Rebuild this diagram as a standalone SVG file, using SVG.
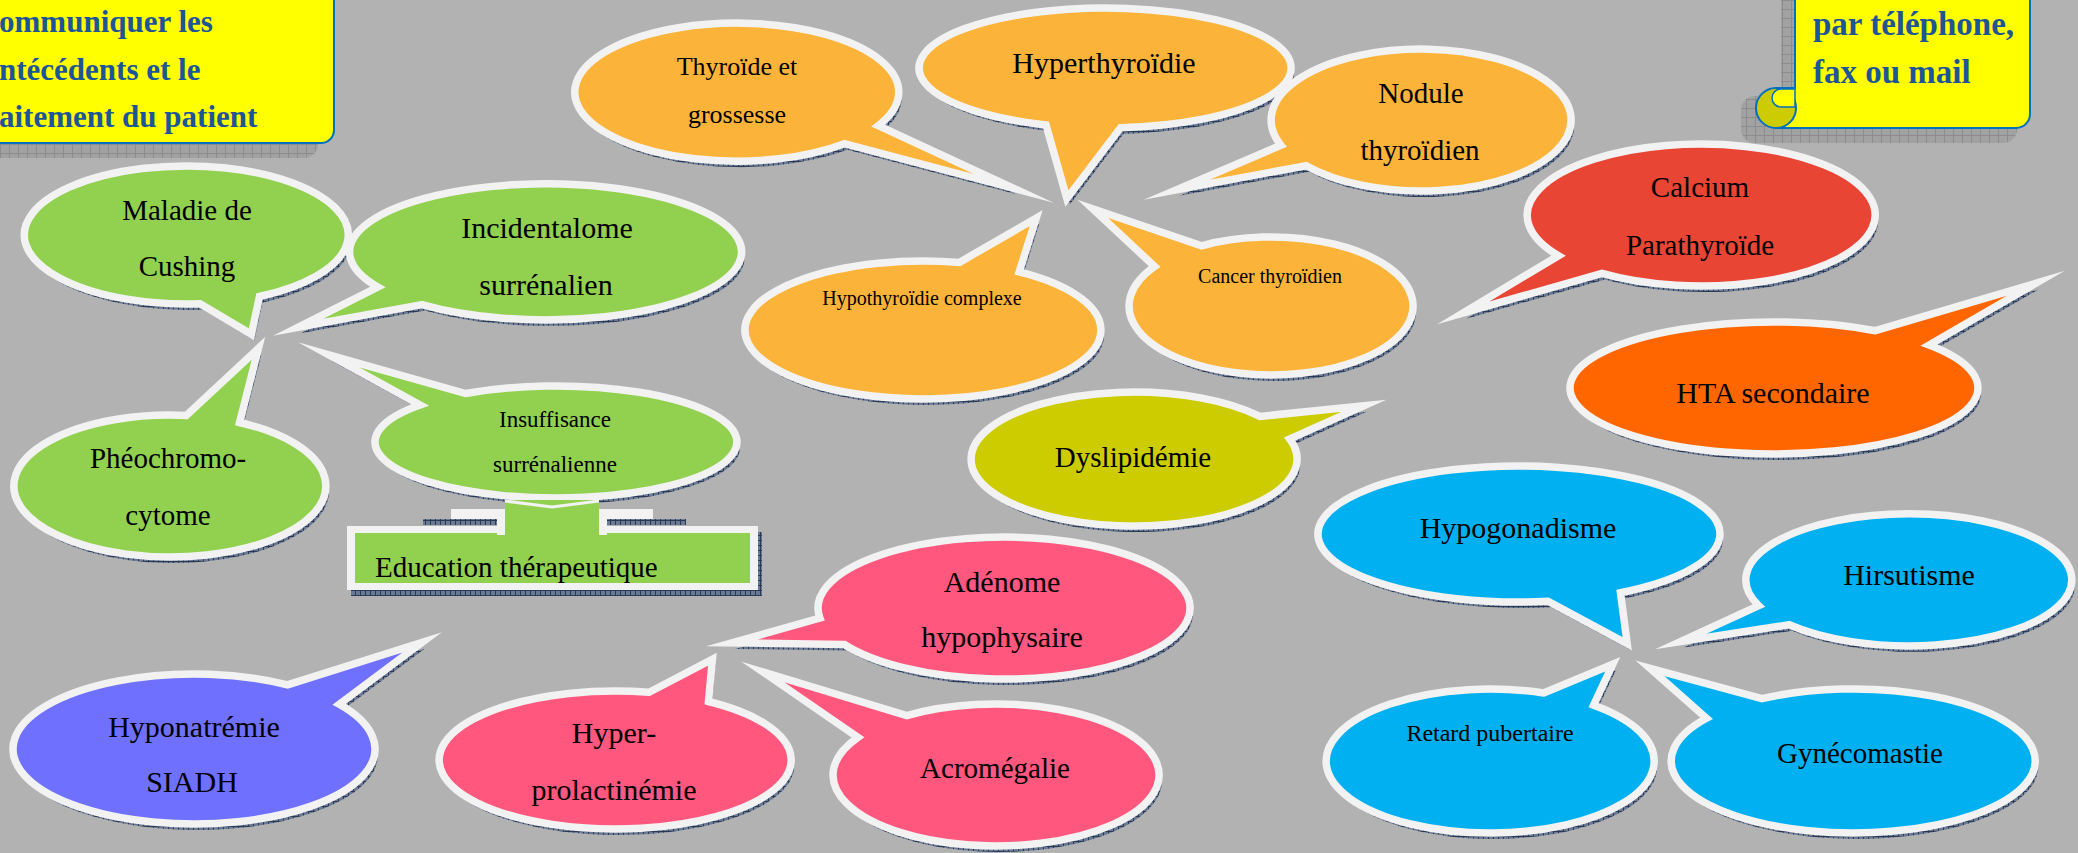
<svg xmlns="http://www.w3.org/2000/svg" width="2078" height="853" viewBox="0 0 2078 853">
<defs>
<pattern id="hatch" width="5" height="5" patternUnits="userSpaceOnUse"><rect width="5" height="5" fill="#6b7a94"/><path d="M0 0.5H5M0.5 0V5" stroke="#2a3954" stroke-width="1"/></pattern>
<pattern id="grey" width="9" height="9" patternUnits="userSpaceOnUse"><rect width="9" height="9" fill="#a2a2a2"/><path d="M0 0.5H9M0.5 0V9" stroke="#8c8c8c" stroke-width="1"/></pattern>
<path id="p-maladie" d="M259.5 296.5 L251.4 334.3 L200.1 303.7 A162 69 0 1 1 259.5 296.5 Z"/>
<path id="p-incid" d="M421.9 304.6 L297.9 327.3 L377.8 287 A196 68 0 1 1 421.9 304.6 Z"/>
<path id="p-pheo" d="M186.3 415.4 L258.5 348.2 L239.6 422.5 A156 71 0 1 1 186.3 415.4 Z"/>
<path id="p-insuff" d="M420.1 405 L328.8 354.9 L465.5 393.5 A181 56 0 1 1 420.1 405 Z"/>
<path id="p-hypona" d="M287.5 684.8 L422 642.5 L339.3 704.3 A181 75 0 1 1 287.5 684.8 Z"/>
<path id="p-hyperprl" d="M649.2 692.3 L712.4 659.3 L708.5 701.5 A176 69 0 1 1 649.2 692.3 Z"/>
<path id="p-adenome" d="M844.4 644.5 L731.8 642.9 L819.9 618.1 A186 71 0 1 1 844.4 644.5 Z"/>
<path id="p-acro" d="M857.9 737.3 L763 672 L906.7 715.6 A163 71 0 1 1 857.9 737.3 Z"/>
<path id="p-thyro" d="M878.3 125.7 L1013.5 188.3 L844.4 143.7 A162 69 0 1 1 878.3 125.7 Z"/>
<path id="p-hyperthyr" d="M1120.6 127.8 L1066.9 198.6 L1046 124.9 A186 60 0 1 1 1120.6 127.8 Z"/>
<path id="p-nodule" d="M1306.2 165.7 L1176.5 189.8 L1280.9 145.3 A150 71 0 1 1 1306.2 165.7 Z"/>
<path id="p-cancer" d="M1154.6 266.5 L1092.8 208.8 L1201.6 245.8 A142 69 0 1 1 1154.6 266.5 Z"/>
<path id="p-hypothyr" d="M959.4 262.4 L1036.2 218.1 L1019.2 271.9 A178 69 0 1 1 959.4 262.4 Z"/>
<path id="p-dyslip" d="M1259.8 416.4 L1363.7 405.8 L1289.7 439.1 A163 67 0 1 1 1259.8 416.4 Z"/>
<path id="p-calcium" d="M1602 273.4 L1463.3 312.8 L1558.5 255.7 A174 71 0 1 1 1602 273.4 Z"/>
<path id="p-hta" d="M1875.4 330.7 L2035.8 283.3 L1929.1 345.1 A204 66 0 1 1 1875.4 330.7 Z"/>
<path id="p-hypogon" d="M1620.5 592.7 L1627.2 643.7 L1548 601.3 A201 68 0 1 1 1620.5 592.7 Z"/>
<path id="p-hirsut" d="M1789.2 624.7 L1680.9 641.4 L1758.7 605.6 A163 66 0 1 1 1789.2 624.7 Z"/>
<path id="p-retard" d="M1543.6 693 L1612.8 664.2 L1593.6 705.2 A164 72 0 1 1 1543.6 693 Z"/>
<path id="p-gyneco" d="M1706.5 718.3 L1650 668.3 L1762 698.6 A182 72 0 1 1 1706.5 718.3 Z"/>
</defs>
<style>
.sh{fill:url(#hatch)}
.b{stroke:#f2f2f2;stroke-width:7.5;stroke-linejoin:miter;stroke-miterlimit:30}
.green{fill:#92d050}
.orange{fill:#fbb439}
.olive{fill:#cccc00}
.red{fill:#e84535}
.hta{fill:#ff6600}
.pink{fill:#ff577d}
.blue{fill:#00b0f0}
.violet{fill:#7070ff}
.t{font-family:"Liberation Serif","DejaVu Serif",serif;fill:#000;text-anchor:middle}
.n{font-family:"Liberation Serif","DejaVu Serif",serif;font-weight:bold;fill:#1e5596}
</style>
<rect x="0" y="0" width="2078" height="853" fill="#b2b2b2"/>

<g id="note-left">
<rect x="-30" y="-20" width="348" height="178" rx="14" fill="url(#grey)"/>
<rect x="-20" y="-20" width="354" height="163" rx="13" fill="#ffff00" stroke="#0070c0" stroke-width="2"/>
<text class="n" x="-1" y="32" font-size="31">ommuniquer les</text>
<text class="n" x="-1" y="80" font-size="31">ntécédents et le</text>
<text class="n" x="-1" y="127" font-size="31">aitement du patient</text>
</g>

<g id="note-right">
<rect x="1781" y="-10" width="20" height="110" fill="url(#grey)"/>
<rect x="1741" y="96" width="276" height="47" rx="14" fill="url(#grey)"/>
<path d="M1795 -10 H2030 V114 A14 14 0 0 1 2016 128 H1776 V88 H1795 Z" fill="#ffff00" stroke="#0070c0" stroke-width="2"/>
<circle cx="1776" cy="108" r="20" fill="#cccc00" stroke="#0070c0" stroke-width="2"/>
<path d="M1795 89 H1781 A9 9 0 0 0 1781 107 H1795 Z" fill="#ffff00" stroke="#0070c0" stroke-width="1.5"/>
<text class="n" x="1813" y="35" font-size="33">par téléphone,</text>
<text class="n" x="1813" y="83" font-size="33">fax ou mail</text>
</g>

<g id="maladie-cushing">
<use href="#p-maladie" class="sh" x="3" y="6"/>
<use href="#p-maladie" class="b green"/>
<text class="t" x="187" y="220" font-size="29">Maladie de</text>
<text class="t" x="187" y="276" font-size="29">Cushing</text>
</g>
<g id="incidentalome">
<use href="#p-incid" class="sh" x="3" y="6"/>
<use href="#p-incid" class="b green"/>
<text class="t" x="547" y="238" font-size="30">Incidentalome</text>
<text class="t" x="546" y="295" font-size="30">surrénalien</text>
</g>
<g id="pheochromocytome">
<use href="#p-pheo" class="sh" x="3" y="6"/>
<use href="#p-pheo" class="b green"/>
<text class="t" x="168" y="468" font-size="29">Phéochromo-</text>
<text class="t" x="168" y="525" font-size="29">cytome</text>
</g>
<g id="insuffisance">
<use href="#p-insuff" class="sh" x="3" y="6"/>
<use href="#p-insuff" class="b green"/>
<text class="t" x="555" y="427" font-size="23">Insuffisance</text>
<text class="t" x="555" y="472" font-size="23">surrénalienne</text>
</g>
<g id="education">
<rect x="351" y="532" width="411" height="64" class="sh"/>
<rect x="347" y="526" width="411" height="64" fill="#f2f2f2"/>
<rect x="355" y="533" width="395" height="50" fill="#92d050"/>
<text class="t" x="375" y="577" font-size="29" style="text-anchor:start">Education thérapeutique</text>
</g>
<g id="hyponatremie">
<use href="#p-hypona" class="sh" x="3" y="6"/>
<use href="#p-hypona" class="b violet"/>
<text class="t" x="194" y="737" font-size="30">Hyponatrémie</text>
<text class="t" x="192" y="792" font-size="30">SIADH</text>
</g>
<g id="hyperprolactinemie">
<use href="#p-hyperprl" class="sh" x="3" y="6"/>
<use href="#p-hyperprl" class="b pink"/>
<text class="t" x="614" y="743" font-size="30">Hyper-</text>
<text class="t" x="614" y="800" font-size="30">prolactinémie</text>
</g>
<g id="adenome">
<use href="#p-adenome" class="sh" x="3" y="6"/>
<use href="#p-adenome" class="b pink"/>
<text class="t" x="1002" y="592" font-size="30">Adénome</text>
<text class="t" x="1002" y="647" font-size="30">hypophysaire</text>
</g>
<g id="acromegalie">
<use href="#p-acro" class="sh" x="3" y="6"/>
<use href="#p-acro" class="b pink"/>
<text class="t" x="995" y="778" font-size="29">Acromégalie</text>
</g>
<g id="thyroide-grossesse">
<use href="#p-thyro" class="sh" x="3" y="6"/>
<use href="#p-thyro" class="b orange"/>
<text class="t" x="737" y="75" font-size="26">Thyroïde et</text>
<text class="t" x="737" y="123" font-size="26">grossesse</text>
</g>
<g id="hyperthyroidie">
<use href="#p-hyperthyr" class="sh" x="3" y="6"/>
<use href="#p-hyperthyr" class="b orange"/>
<text class="t" x="1104" y="73" font-size="30">Hyperthyroïdie</text>
</g>
<g id="nodule">
<use href="#p-nodule" class="sh" x="3" y="6"/>
<use href="#p-nodule" class="b orange"/>
<text class="t" x="1421" y="103" font-size="29">Nodule</text>
<text class="t" x="1420" y="160" font-size="29">thyroïdien</text>
</g>
<g id="hypothyroidie">
<use href="#p-hypothyr" class="sh" x="3" y="6"/>
<use href="#p-hypothyr" class="b orange"/>
<text class="t" x="922" y="305" font-size="20">Hypothyroïdie complexe</text>
</g>
<g id="cancer">
<use href="#p-cancer" class="sh" x="3" y="6"/>
<use href="#p-cancer" class="b orange"/>
<text class="t" x="1270" y="283" font-size="20">Cancer thyroïdien</text>
</g>
<g id="dyslipidemie">
<use href="#p-dyslip" class="sh" x="3" y="6"/>
<use href="#p-dyslip" class="b olive"/>
<text class="t" x="1133" y="467" font-size="29">Dyslipidémie</text>
</g>
<g id="calcium">
<use href="#p-calcium" class="sh" x="3" y="6"/>
<use href="#p-calcium" class="b red"/>
<text class="t" x="1700" y="197" font-size="29">Calcium</text>
<text class="t" x="1700" y="255" font-size="29">Parathyroïde</text>
</g>
<g id="hta">
<use href="#p-hta" class="sh" x="3" y="6"/>
<use href="#p-hta" class="b hta"/>
<text class="t" x="1773" y="403" font-size="30">HTA secondaire</text>
</g>
<g id="hypogonadisme">
<use href="#p-hypogon" class="sh" x="3" y="6"/>
<use href="#p-hypogon" class="b blue"/>
<text class="t" x="1518" y="538" font-size="30">Hypogonadisme</text>
</g>
<g id="hirsutisme">
<use href="#p-hirsut" class="sh" x="3" y="6"/>
<use href="#p-hirsut" class="b blue"/>
<text class="t" x="1909" y="585" font-size="30">Hirsutisme</text>
</g>
<g id="retard">
<use href="#p-retard" class="sh" x="3" y="6"/>
<use href="#p-retard" class="b blue"/>
<text class="t" x="1490" y="741" font-size="24">Retard pubertaire</text>
</g>
<g id="gynecomastie">
<use href="#p-gyneco" class="sh" x="3" y="6"/>
<use href="#p-gyneco" class="b blue"/>
<text class="t" x="1860" y="763" font-size="29">Gynécomastie</text>
</g>

<g id="connectors">
<rect x="423" y="519" width="74" height="6" class="sh"/>
<rect x="607" y="519" width="79" height="6" class="sh"/>
<rect x="451" y="509" width="202" height="10" fill="#f2f2f2"/>
<rect x="497" y="509" width="110" height="26" fill="#f2f2f2"/>
<rect x="505" y="500" width="94" height="36" fill="#92d050"/>
<polyline points="505,501 552,507 599,501" fill="none" stroke="#f2f2f2" stroke-width="3"/>
</g>
</svg>
